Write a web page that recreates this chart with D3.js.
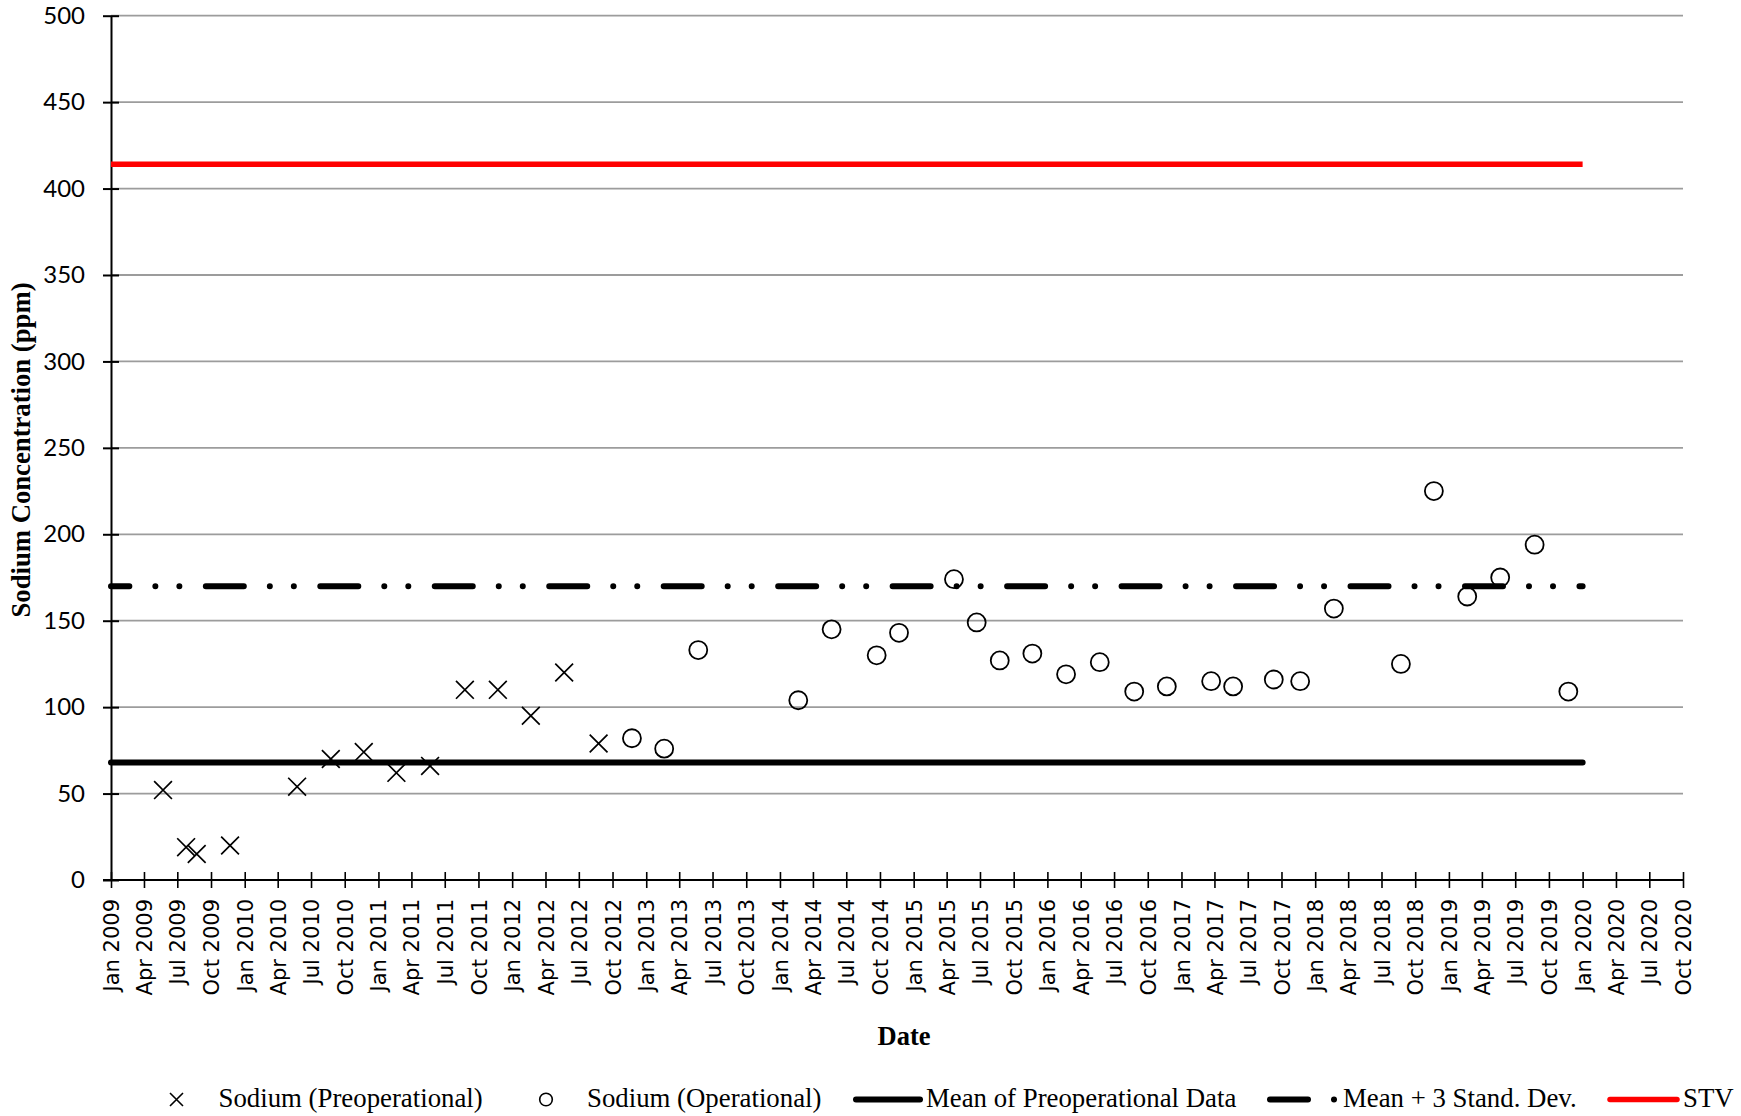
<!DOCTYPE html>
<html>
<head>
<meta charset="utf-8">
<script src="https://cdn.jsdelivr.net/npm/d3@7"></script>
<style>
  body { margin: 0; background: #fff; }
  svg { display: block; }
</style>
</head>
<body>
<svg id="chart" width="1741" height="1116"></svg>
<script>
// Sodium samples before operations began
const preopDates = ["2009-05-23","2009-07-25","2009-08-23","2009-11-22","2010-05-24","2010-08-24",
  "2010-11-22","2011-02-19","2011-05-22","2011-08-25","2011-11-23","2012-02-21","2012-05-22","2012-08-24"];
const preopValues = [52, 19, 15, 20, 54, 70, 74, 62, 66, 110, 110, 95, 120, 79];

// Sodium samples during operations
const opDates = ["2012-11-23","2013-02-19","2013-05-23","2014-02-20","2014-05-22","2014-09-22",
  "2014-11-22","2015-04-21","2015-06-22","2015-08-24","2015-11-21","2016-02-21","2016-05-23",
  "2016-08-25","2016-11-22","2017-03-23","2017-05-22","2017-09-10","2017-11-21","2018-02-21",
  "2018-08-23","2018-11-21","2019-02-20","2019-05-21","2019-08-23","2019-11-23"];
const opValues = [82, 76, 133, 104, 145, 130, 143, 174, 149, 127, 131, 119, 126,
  109, 112, 115, 112, 116, 115, 157, 125, 225, 164, 175, 194, 109];

// Reference levels (ppm) and the period they span
const meanPreop = 68;
const meanPlus3SD = 170;
const stvLevel = 414;
const refSpan = ["2009-01-01", "2020-01-01"];

// Axes
const xDomain = ["2009-01-01", "2020-10-01"];
const yTicks = [0, 50, 100, 150, 200, 250, 300, 350, 400, 450, 500];
const xTitle = "Date";
const yTitle = "Sodium Concentration (ppm)";
const legendLabels = ["Sodium (Preoperational)", "Sodium (Operational)",
  "Mean of Preoperational Data", "Mean + 3 Stand. Dev.", "STV"];

const parse = d3.timeParse("%Y-%m-%d");
const svg = d3.select("#chart");

const x = d3.scaleTime().domain(xDomain.map(parse)).range([111, 1683]);
const y = d3.scaleLinear().domain([0, 500]).range([880, 15.7]);

// horizontal gridlines
svg.append("g").selectAll("line")
  .data(yTicks.filter(v => v > 0))
  .join("line")
  .attr("x1", x.range()[0]).attr("x2", x.range()[1])
  .attr("y1", d => y(d)).attr("y2", d => y(d))
  .attr("stroke", "#9c9c9c").attr("stroke-width", 1.8);

// y axis
const yAxis = svg.append("g")
  .attr("transform", `translate(${x.range()[0]},0)`)
  .call(d3.axisLeft(y).tickValues(yTicks).tickSize(8).tickPadding(18).tickSizeOuter(0));
yAxis.select(".domain").attr("stroke", "#000").attr("stroke-width", 2);
yAxis.selectAll(".tick line").attr("x1", 8).attr("stroke", "#000").attr("stroke-width", 2);
yAxis.selectAll(".tick text")
  .attr("font-family", "Lato, 'Open Sans', sans-serif").attr("font-size", 24).attr("fill", "#000");

// x axis: a tick every quarter
const xTickValues = d3.timeMonth.every(3).range(parse(xDomain[0]), d3.timeDay.offset(parse(xDomain[1]), 1));
const xAxis = svg.append("g")
  .attr("transform", `translate(0,${y(0)})`)
  .call(d3.axisBottom(x).tickValues(xTickValues).tickFormat(d3.timeFormat("%b %Y"))
    .tickSize(8).tickSizeOuter(0));
xAxis.select(".domain").attr("stroke", "#000").attr("stroke-width", 2)
  .attr("d", `M${x.range()[0] - 8},0H${x.range()[1]}`);
xAxis.selectAll(".tick line").attr("y1", -8).attr("stroke", "#000").attr("stroke-width", 1.6);
xAxis.selectAll(".tick text")
  .attr("font-family", "'DejaVu Sans', sans-serif").attr("font-size", 21).attr("fill", "#000")
  .attr("transform", "rotate(-90)")
  .attr("text-anchor", "end")
  .attr("x", -19).attr("y", 0).attr("dy", "0.36em");

// axis titles
svg.append("text")
  .attr("x", 904).attr("y", 1045)
  .attr("text-anchor", "middle")
  .attr("font-family", "'Liberation Serif', 'Times New Roman', serif")
  .attr("font-weight", "bold").attr("font-size", 26.5)
  .text(xTitle);
svg.append("text")
  .attr("transform", "translate(30,450) rotate(-90)")
  .attr("text-anchor", "middle")
  .attr("font-family", "'Liberation Serif', 'Times New Roman', serif")
  .attr("font-weight", "bold").attr("font-size", 26.7)
  .text(yTitle);

// markers
const crossPath = s => `M${-s},${-s}L${s},${s}M${-s},${s}L${s},${-s}`;
svg.append("g").selectAll("path")
  .data(preopDates.map((d, i) => [parse(d), preopValues[i]]))
  .join("path")
  .attr("transform", d => `translate(${x(d[0])},${y(d[1])})`)
  .attr("d", crossPath(8.9))
  .attr("stroke", "#000").attr("stroke-width", 1.7).attr("fill", "none");

svg.append("g").selectAll("circle")
  .data(opDates.map((d, i) => [parse(d), opValues[i]]))
  .join("circle")
  .attr("cx", d => x(d[0])).attr("cy", d => y(d[1]))
  .attr("r", 9)
  .attr("stroke", "#000").attr("stroke-width", 1.8).attr("fill", "none");

// reference lines
const spanX = refSpan.map(d => x(parse(d)));
const dashPattern = "38 26 0.01 24 0.01 26.45";
svg.append("line")
  .attr("x1", spanX[0]).attr("x2", spanX[1])
  .attr("y1", y(meanPreop)).attr("y2", y(meanPreop))
  .attr("stroke", "#000").attr("stroke-width", 6).attr("stroke-linecap", "round");
svg.append("line")
  .attr("x1", spanX[0]).attr("x2", spanX[1])
  .attr("y1", y(meanPlus3SD)).attr("y2", y(meanPlus3SD))
  .attr("stroke", "#000").attr("stroke-width", 6).attr("stroke-linecap", "round")
  .attr("stroke-dasharray", dashPattern).attr("stroke-dashoffset", 19.65);
svg.append("line")
  .attr("x1", spanX[0]).attr("x2", spanX[1])
  .attr("y1", y(stvLevel)).attr("y2", y(stvLevel))
  .attr("stroke", "#ff0000").attr("stroke-width", 5.5);

// legend
const legend = svg.append("g")
  .attr("font-family", "'Liberation Serif', 'Times New Roman', serif")
  .attr("font-size", 26.8).attr("fill", "#000");
const ly = 1099.5, lBase = 1107;
legend.append("path").attr("transform", `translate(176.5,${ly})`)
  .attr("d", crossPath(6.5)).attr("stroke", "#000").attr("stroke-width", 1.6).attr("fill", "none");
legend.append("text").attr("x", 218.5).attr("y", lBase).text(legendLabels[0]);
legend.append("circle").attr("cx", 546).attr("cy", ly).attr("r", 6.3)
  .attr("stroke", "#000").attr("stroke-width", 1.6).attr("fill", "none");
legend.append("text").attr("x", 587).attr("y", lBase).text(legendLabels[1]);
legend.append("line").attr("x1", 856).attr("x2", 920).attr("y1", ly).attr("y2", ly)
  .attr("stroke", "#000").attr("stroke-width", 6).attr("stroke-linecap", "round");
legend.append("text").attr("x", 926).attr("y", lBase).text(legendLabels[2]);
legend.append("line").attr("x1", 1270).attr("x2", 1335).attr("y1", ly).attr("y2", ly)
  .attr("stroke", "#000").attr("stroke-width", 6).attr("stroke-linecap", "round")
  .attr("stroke-dasharray", dashPattern);
legend.append("text").attr("x", 1343).attr("y", lBase).text(legendLabels[3]);
legend.append("line").attr("x1", 1610).attr("x2", 1677).attr("y1", ly).attr("y2", ly)
  .attr("stroke", "#ff0000").attr("stroke-width", 5.5).attr("stroke-linecap", "round");
legend.append("text").attr("x", 1683).attr("y", lBase).text(legendLabels[4]);
</script>
</body>
</html>
